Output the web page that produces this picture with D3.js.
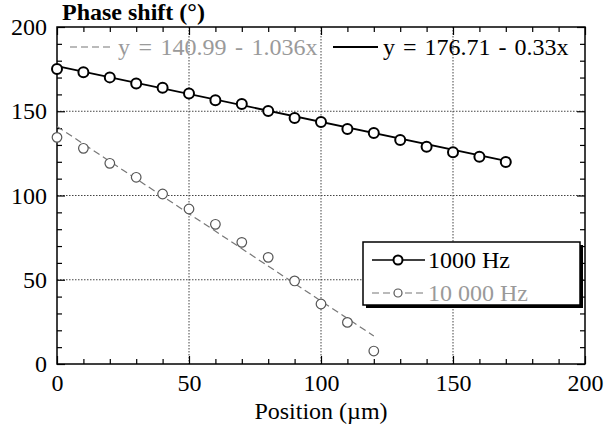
<!DOCTYPE html>
<html lang="en">
<meta charset="utf-8">
<head>
    <title>Phase shift vs position</title>
    <script src="https://cdn.jsdelivr.net/npm/d3@7/dist/d3.min.js"></script>
    <style>
        body { margin: 0; background: #fff; }
        .axis .domain { display: none; }
        .axis line { stroke: #000; stroke-width: 1.2px; }
        .grid line { stroke: #444; stroke-width: 1px; stroke-dasharray: 1.5,1.5; }
    </style>
</head>
<body>
<script>
    // Data
    const pos1k = d3.range(0, 171, 10);           // µm
    const phase1k = [175.1, 173.1, 170.1, 166.5, 164.0, 160.6, 156.5, 154.3, 150.1,
                     146.0, 143.6, 139.5, 137.1, 132.9, 129.0, 125.6, 123.0, 119.9];
    const pos10k = d3.range(0, 121, 10);
    const phase10k = [134.5, 128.0, 119.1, 110.8, 100.9, 92.0, 82.9, 72.2, 63.3,
                      49.3, 35.6, 24.7, 7.7];

    // fitted lines: y = a + b x
    const fit1k = { a: 176.71, b: -0.33, x0: 0, x1: 170, label: "y = 176.71 - 0.33x" };
    const fit10k = { a: 140.99, b: -1.036, x0: 0, x1: 120, label: "y = 140.99 - 1.036x" };

    const majorTicks = [0, 50, 100, 150, 200];
    const minorTicks = d3.range(0, 201, 10).filter(d => d % 50 !== 0);
    const gridTicks = [50, 100, 150];

    const W = 607, H = 428;
    const mLeft = 57, mRight = 585, mTop = 27, mBottom = 364;
    const serif = "Liberation Serif";

    const svg = d3.select("body").append("svg")
        .attr("width", W).attr("height", H)
        .attr("font-family", serif);

    const x = d3.scaleLinear().domain([0, 200]).range([mLeft, mRight]);
    const y = d3.scaleLinear().domain([0, 200]).range([mBottom, mTop]);

    // grid
    const grid = svg.append("g").attr("class", "grid");
    grid.selectAll(".gx").data(gridTicks).enter().append("line")
        .attr("x1", d => x(d)).attr("x2", d => x(d))
        .attr("y1", mTop).attr("y2", mBottom);
    grid.selectAll(".gy").data(gridTicks).enter().append("line")
        .attr("x1", mLeft).attr("x2", mRight)
        .attr("y1", d => y(d)).attr("y2", d => y(d));

    // axes (ticks point inward)
    function addAxis(axis, tr, vals, size, labels) {
        const a = axis.tickValues(vals).tickSize(-size).tickPadding(10);
        if (!labels) a.tickFormat("");
        svg.append("g").attr("class", "axis").attr("transform", tr).call(a)
            .attr("font-family", serif).attr("font-size", 24)
            .selectAll("text").attr("fill", "#000");
    }
    addAxis(d3.axisBottom(x), `translate(0,${mBottom})`, majorTicks, 8, true);
    addAxis(d3.axisBottom(x), `translate(0,${mBottom})`, minorTicks, 5, false);
    addAxis(d3.axisTop(x), `translate(0,${mTop})`, majorTicks, 8, false);
    addAxis(d3.axisTop(x), `translate(0,${mTop})`, minorTicks, 5, false);
    addAxis(d3.axisLeft(y), `translate(${mLeft},0)`, majorTicks, 8, true);
    addAxis(d3.axisLeft(y), `translate(${mLeft},0)`, minorTicks, 5, false);
    addAxis(d3.axisRight(y), `translate(${mRight},0)`, majorTicks, 8, false);
    addAxis(d3.axisRight(y), `translate(${mRight},0)`, minorTicks, 5, false);

    svg.append("rect")
        .attr("x", mLeft).attr("y", mTop)
        .attr("width", mRight - mLeft).attr("height", mBottom - mTop)
        .attr("fill", "none").attr("stroke", "#000").attr("stroke-width", 1.5);

    // fit lines
    const line = d3.line().x(d => x(d[0])).y(d => y(d[1]));
    function fitPts(f) { return [[f.x0, f.a + f.b * f.x0], [f.x1, f.a + f.b * f.x1]]; }

    svg.append("path").attr("d", line(fitPts(fit10k)))
        .attr("fill", "none").attr("stroke", "#777").attr("stroke-width", 1.2)
        .attr("stroke-dasharray", "7,4");
    svg.append("path").attr("d", line(fitPts(fit1k)))
        .attr("fill", "none").attr("stroke", "#000").attr("stroke-width", 1.8);

    // markers
    svg.selectAll(".p10k").data(pos10k).enter().append("circle")
        .attr("cx", d => x(d)).attr("cy", (d, i) => y(phase10k[i]))
        .attr("r", 4.8).attr("fill", "#fff").attr("stroke", "#555").attr("stroke-width", 1.2);
    svg.selectAll(".p1k").data(pos1k).enter().append("circle")
        .attr("cx", d => x(d)).attr("cy", (d, i) => y(phase1k[i]))
        .attr("r", 5).attr("fill", "#fff").attr("stroke", "#000").attr("stroke-width", 2);

    // fit equations at the top
    svg.append("line").attr("x1", 70).attr("x2", 113).attr("y1", 47).attr("y2", 47)
        .attr("stroke", "#777").attr("stroke-width", 1.2).attr("stroke-dasharray", "7,4");
    svg.append("text").attr("x", 118).attr("y", 55).attr("font-size", 24)
        .attr("word-spacing", 2.5)
        .attr("fill", "#9a9a9a").text(fit10k.label);
    svg.append("line").attr("x1", 333).attr("x2", 378).attr("y1", 47).attr("y2", 47)
        .attr("stroke", "#000").attr("stroke-width", 1.8);
    svg.append("text").attr("x", 383).attr("y", 55).attr("font-size", 24)
        .attr("word-spacing", 2)
        .attr("fill", "#000").text(fit1k.label);

    // legend
    const lg = svg.append("g");
    lg.append("rect").attr("x", 366).attr("y", 245).attr("width", 217).attr("height", 63)
        .attr("fill", "#000");
    lg.append("rect").attr("x", 363).attr("y", 242).attr("width", 217).attr("height", 63)
        .attr("fill", "#fff").attr("stroke", "#000").attr("stroke-width", 1.5);
    lg.append("line").attr("x1", 372).attr("x2", 425).attr("y1", 260).attr("y2", 260)
        .attr("stroke", "#000").attr("stroke-width", 1.5);
    lg.append("circle").attr("cx", 398).attr("cy", 260).attr("r", 4.5)
        .attr("fill", "#fff").attr("stroke", "#000").attr("stroke-width", 2);
    lg.append("text").attr("x", 428).attr("y", 268).attr("font-size", 24).text("1000 Hz");
    lg.append("line").attr("x1", 372).attr("x2", 425).attr("y1", 293).attr("y2", 293)
        .attr("stroke", "#777").attr("stroke-width", 1.2).attr("stroke-dasharray", "7,4");
    lg.append("circle").attr("cx", 398).attr("cy", 293).attr("r", 4)
        .attr("fill", "#fff").attr("stroke", "#555").attr("stroke-width", 1.2);
    lg.append("text").attr("x", 428).attr("y", 301).attr("font-size", 24)
        .attr("fill", "#9a9a9a").text("10 000 Hz");

    // axis titles
    svg.append("text").attr("x", 62).attr("y", 20).attr("font-size", 24)
        .attr("font-weight", "bold").text("Phase shift (°)");
    svg.append("text").attr("x", (mLeft + mRight) / 2).attr("y", 419)
        .attr("text-anchor", "middle").attr("font-size", 24).text("Position (µm)");
</script>
</body>
</html>
